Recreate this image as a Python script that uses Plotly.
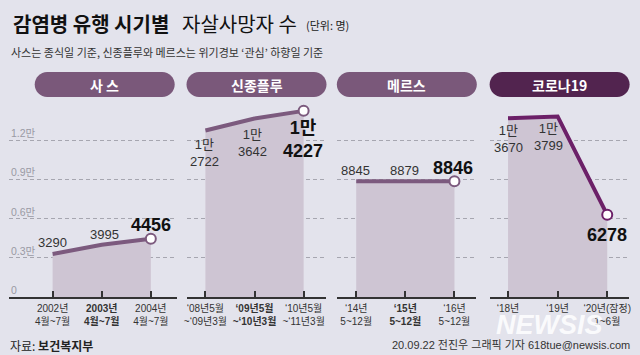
import plotly.graph_objects as go

W, H = 640, 355

# ---------------- data ----------------
panel_titles = ["사 스", "신종플루", "메르스", "코로나19"]
sars = [3290, 3995, 4456]
flu = [12722, 13642, 14227]
mers = [8845, 8879, 8846]
covid = [13670, 13799, 6278]
series = [sars, flu, mers, covid]

tick_labels_sars = ["2002년<br>4월~7월", "<b>2003년</b><br><b>4월~7월</b>", "2004년<br>4월~7월"]
tick_labels_flu = ["‘08년5월<br>~‘09년3월", "<b>‘09년5월</b><br><b>~‘10년3월</b>", "‘10년5월<br>~‘11년3월"]
tick_labels_mers = ["‘14년<br>5~12월", "<b>‘15년</b><br><b>5~12월</b>", "‘16년<br>5~12월"]
tick_labels_covid = ["‘18년", "‘19년", "‘20년(잠정)<br>1~6월"]
tick_labels = [tick_labels_sars, tick_labels_flu, tick_labels_mers, tick_labels_covid]

y_grid_vals = [0, 3000, 6000, 9000, 12000]
y_grid_text = ["0", "0.3만", "0.6만", "0.9만", "1.2만"]

title_bold = "감염병 유행 시기별"
title_norm = "자살사망자 수"
title_unit = "(단위: 명)"
subtitle = "사스는 종식일 기준, 신종플루와 메르스는 위기경보 ‘관심’ 하향일 기준"
source = "자료: <b>보건복지부</b>"
credit = "20.09.22 전진우 그래픽 기자 618tue@newsis.com"

# ---------------- style ----------------
BG = "#e3e3ec"
FILL = "#cec5d3"
LINE = ["#7c5a7e", "#7c5a7e", "#7c5a7e", "#6c2068"]
PILL = ["#7a587a", "#7a587a", "#7a587a", "#52244f"]
KR = "Noto Sans CJK KR, sans-serif"
NUM = "Liberation Sans Narrow, Liberation Sans, Noto Sans CJK KR, sans-serif"

px_domain = [(6, 175), (185, 326), (337, 477), (491, 631)]
px_ticks = [(50, 149), (204, 303), (356, 455), (509, 609)]
y_bottom_px, y_top_px, y12_px = 297, 100, 140
y_max = (y_bottom_px - y_top_px) * 12000 / (y_bottom_px - y12_px)

# label placement (xshift, yshift) per point
label_style = [
    [(0, 11), (3, 10), (0, 14)],
    [(-1, -22), (-2, -24), (-1, -29)],
    [(-1, 11), (-1, 10), (-1, 13)],
    [(0, -21), (-9, -21), (0, -20)],
]

def px(x):
    return x / W

def py(y):
    return 1 - y / H

def fmt(v):
    if v >= 10000:
        return "1만<br>%04d" % (v - 10000)
    return str(v)

fig = go.Figure()
annotations = []
shapes = []
layout_axes = {}

for i, vals in enumerate(series):
    n = i + 1
    xa = "x" if n == 1 else "x%d" % n
    ya = "y" if n == 1 else "y%d" % n
    xs = list(range(len(vals)))
    fig.add_trace(go.Scatter(x=xs, y=vals, fill="tozeroy", fillcolor=FILL, mode="none",
                             xaxis=xa, yaxis=ya, hoverinfo="skip", showlegend=False))
    fig.add_trace(go.Scatter(x=xs, y=vals, mode="lines", line=dict(color=LINE[i], width=4),
                             xaxis=xa, yaxis=ya, hoverinfo="skip", showlegend=False))
    fig.add_trace(go.Scatter(x=[xs[-1]], y=[vals[-1]], mode="markers",
                             marker=dict(size=10, color="white", line=dict(color=LINE[i], width=2)),
                             xaxis=xa, yaxis=ya, hoverinfo="skip", showlegend=False))

    d0, d1 = px_domain[i]
    t0, t2 = px_ticks[i]
    step = (t2 - t0) / 2
    xr = [(d0 - t0) / step, (d1 - t0) / step]
    xkey = "xaxis" if n == 1 else "xaxis%d" % n
    ykey = "yaxis" if n == 1 else "yaxis%d" % n
    layout_axes[xkey] = dict(domain=[px(d0), px(d1)], range=xr, anchor=ya,
                             showline=True, linecolor="#333", linewidth=1.5,
                             ticks="inside", ticklen=6, tickwidth=1.5, tickcolor="#333",
                             tickvals=xs, ticktext=tick_labels[i], tickangle=0,
                             ticklabelstandoff=1,
                             tickfont=dict(family=NUM, size=10, color="#333"),
                             showgrid=False, zeroline=False, fixedrange=True)
    layout_axes[ykey] = dict(domain=[py(y_bottom_px), py(y_top_px)], range=[0, y_max], anchor=xa,
                             tickvals=y_grid_vals[1:], showticklabels=False, ticks="",
                             showgrid=True, gridcolor="#a6a6b0", gridwidth=1, griddash="4px,3px",
                             zeroline=False, showline=False, fixedrange=True)

    # value labels
    for j, v in enumerate(vals):
        last = j == len(vals) - 1
        xsft, ysft = label_style[i][j]
        txt = fmt(v)
        if last:
            txt = "<b>" + txt + "</b>"
        annotations.append(dict(x=xs[j], y=v, xref=xa, yref=ya, text=txt, showarrow=False,
                                xanchor="center", yanchor="middle", xshift=xsft, yshift=ysft,
                                font=dict(family=NUM, size=18 if last else 13, color="#111" if last else "#333")))

    # header pill
    cx = (d0 + d1) / 2 if i > 0 else 102.5
    w, h = 140, 25
    r = h / 2
    k = 0.5523 * r
    a = w / 2 - r
    path = (f"M {-a},{-r} L {a},{-r} C {a+k},{-r} {w/2},{-k} {w/2},0 C {w/2},{k} {a+k},{r} {a},{r} "
            f"L {-a},{r} C {-a-k},{r} {-w/2},{k} {-w/2},0 C {-w/2},{-k} {-a-k},{-r} {-a},{-r} Z")
    shapes.append(dict(type="path", xref="paper", yref="paper", xsizemode="pixel", ysizemode="pixel",
                       xanchor=px(cx), yanchor=py(84.5), path=path, fillcolor=PILL[i], line=dict(width=0)))
    annotations.append(dict(x=px(cx), y=py(84.5), xref="paper", yref="paper", text="<b>%s</b>" % panel_titles[i],
                            showarrow=False, xanchor="center", yanchor="middle",
                            font=dict(family=KR, size=14, color="white")))

# y grid labels (left panel)
for v, t in zip(y_grid_vals, y_grid_text):
    annotations.append(dict(x=px(6), y=v, xref="paper", yref="y", text=t, showarrow=False,
                            xanchor="left", yanchor="middle", yshift=7,
                            font=dict(family=NUM, size=10.5, color="#9a9aa4")))

# titles
annotations += [
    dict(x=px(8), y=py(23), xref="paper", yref="paper", text="<b>%s</b>" % title_bold, showarrow=False,
         xanchor="left", yanchor="middle", font=dict(family=KR, size=20, color="#111")),
    dict(x=px(178), y=py(23), xref="paper", yref="paper", text=title_norm, showarrow=False,
         xanchor="left", yanchor="middle", font=dict(family=KR, size=20, color="#111")),
    dict(x=px(303), y=py(25), xref="paper", yref="paper", text=title_unit, showarrow=False,
         xanchor="left", yanchor="middle", font=dict(family=KR, size=11, color="#222")),
    dict(x=px(6), y=py(52), xref="paper", yref="paper", text=subtitle, showarrow=False,
         xanchor="left", yanchor="middle", font=dict(family=KR, size=11, color="#333")),
    dict(x=px(5), y=py(345), xref="paper", yref="paper", text=source, showarrow=False,
         xanchor="left", yanchor="middle", font=dict(family=KR, size=12, color="#222")),
    dict(x=px(634), y=py(345), xref="paper", yref="paper", text=credit, showarrow=False,
         xanchor="right", yanchor="middle", font=dict(family=NUM, size=11, color="#333")),
    dict(x=px(551), y=py(325), xref="paper", yref="paper", text="<b><i>NEWSIS</i></b>", showarrow=False,
         xanchor="center", yanchor="middle", opacity=0.85,
         font=dict(family="Liberation Sans, Arial, sans-serif", size=27, color="white")),
]

fig.update_layout(width=W, height=H, margin=dict(l=0, r=0, t=0, b=0),
                  paper_bgcolor=BG, plot_bgcolor="rgba(0,0,0,0)",
                  annotations=annotations, shapes=shapes, showlegend=False, **layout_axes)

fig.write_html("out.html", config={"displayModeBar": False},
               post_script="document.body.style.margin='0px';document.body.style.overflow='hidden';")
